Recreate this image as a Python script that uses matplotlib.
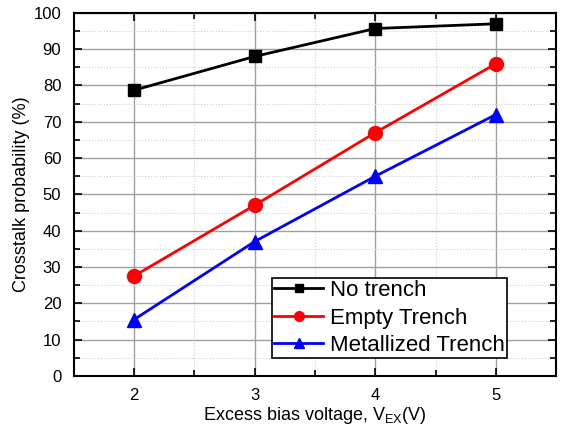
import matplotlib
matplotlib.use('Agg')
import matplotlib.pyplot as plt
from matplotlib.ticker import MultipleLocator

plt.rcParams['font.family'] = ['Liberation Sans', 'DejaVu Sans']
plt.rcParams['mathtext.fontset'] = 'custom'
plt.rcParams['mathtext.rm'] = 'Liberation Sans'

# dữ liệu
voltage = [2, 3, 4, 5]
no_trench = [78.7, 88.0, 95.7, 97.0]
empty_trench = [27.5, 47.0, 67.0, 86.0]
metal_trench = [15.5, 37.0, 55.0, 72.0]

fig = plt.figure(figsize=(5.63, 4.30), dpi=100)
ax = fig.add_axes([0.131, 0.126, 0.857, 0.844])

ax.plot(voltage, no_trench, '-s', color='black', lw=2, ms=9, label='No trench')
ax.plot(voltage, empty_trench, '-o', color='red', lw=2, ms=10, label='Empty Trench')
ax.plot(voltage, metal_trench, '-^', color='blue', lw=2, ms=10, label='Metallized Trench')

ax.set_xlim(1.5, 5.5)
ax.set_ylim(0, 100)
ax.xaxis.set_major_locator(MultipleLocator(1))
ax.xaxis.set_minor_locator(MultipleLocator(0.5))
ax.yaxis.set_major_locator(MultipleLocator(10))
ax.yaxis.set_minor_locator(MultipleLocator(5))

ax.grid(which='major', color='#a0a0a0', lw=1, ls='-')
ax.grid(which='minor', color='#d0d0d0', lw=0.8, ls=':')
ax.set_axisbelow(True)

ax.tick_params(which='both', direction='in', top=True, right=True, labelsize=12)
ax.tick_params(which='major', length=6, width=1.2)
ax.tick_params(which='minor', length=4, width=1.2)
ax.tick_params(axis='x', pad=9)
ax.tick_params(axis='y', pad=9)
for s in ax.spines.values():
    s.set_linewidth(1.5)

ax.set_xlabel(r'Excess bias voltage, V$_{\mathrm{EX}}$(V)', fontsize=13, labelpad=1)
ax.set_ylabel('Crosstalk probability (%)', fontsize=13, labelpad=2.5)

leg = ax.legend(loc='lower right', bbox_to_anchor=(0.898, 0.048), fontsize=16,
                fancybox=False, edgecolor='black', framealpha=1, markerscale=0.7,
                handlelength=2.2, borderpad=0.1, labelspacing=0.3, handletextpad=0.3,
                borderaxespad=0)
leg.get_frame().set_linewidth(1.2)

fig.savefig('out.png', dpi=100)
